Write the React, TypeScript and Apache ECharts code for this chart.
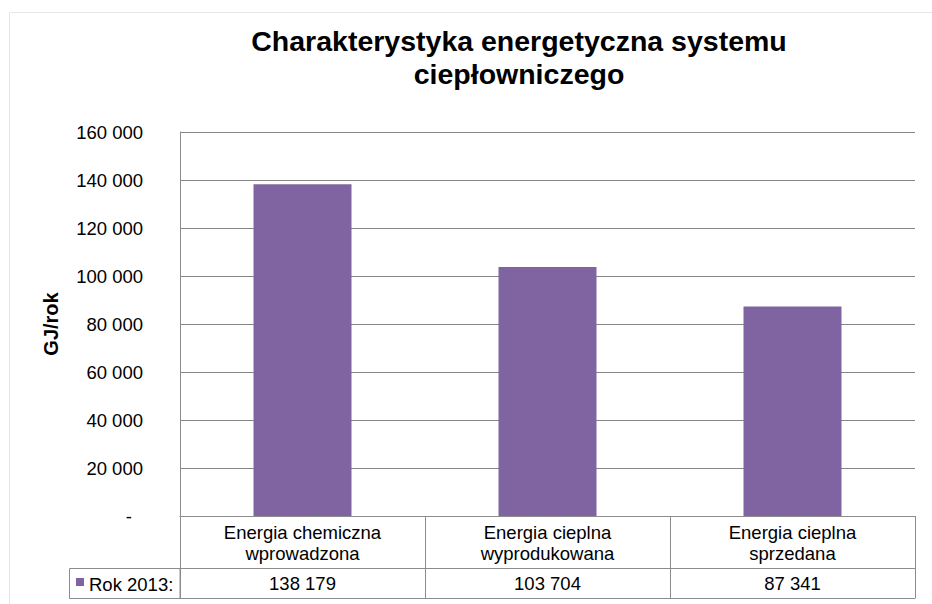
import React, { useEffect, useRef } from "react";
import * as echarts from "echarts";

const categories = [
  "Energia chemiczna\nwprowadzona",
  "Energia cieplna\nwyprodukowana",
  "Energia cieplna\nsprzedana",
];
const values = [138179, 103704, 87341];
const seriesName = "Rok 2013:";
const titleText = "Charakterystyka energetyczna systemu\nciepłowniczego";
const yAxisName = "GJ/rok";
const yMin = 0;
const yMax = 160000;
const yInterval = 20000;

const FONT = "'Liberation Sans', Arial, sans-serif";
const BAR = "#8064A2";
const LINE = "#8c8c8c";

const fmt = (n: number) =>
  String(Math.round(n)).replace(/\B(?=(\d{3})+(?!\d))/g, " ");

export default function App() {
  const ref = useRef<HTMLDivElement>(null);
  useEffect(() => {
    if (!ref.current) return;
    const chart = echarts.init(ref.current, undefined, { renderer: "svg" });
    chart.setOption({
      animation: false,
      backgroundColor: "#ffffff",
      grid: { left: 180, right: 17, top: 132, bottom: 88, containLabel: false },
      yAxis: {
        type: "value",
        min: yMin,
        max: yMax,
        interval: yInterval,
        name: yAxisName,
        nameLocation: "middle",
        nameRotate: 90,
        nameGap: 119,
        nameTextStyle: { fontFamily: FONT, fontSize: 20, fontWeight: "bold", color: "#000" },
        axisLine: { show: true, lineStyle: { color: LINE, width: 1 } },
        axisTick: { show: false },
        splitLine: { show: true, lineStyle: { color: "#868686", width: 1 } },
        axisLabel: {
          margin: 37,
          fontFamily: FONT,
          fontSize: 18.5,
          color: "#000",
          formatter: (v: number) => (v === 0 ? "{d|-}" : fmt(v)),
          rich: { d: { fontFamily: FONT, fontSize: 18.5, color: "#000", padding: [0, 11, 0, 0] } },
        },
      },
      xAxis: [
        {
          type: "category",
          data: categories,
          position: "bottom",
          axisLine: { show: true, lineStyle: { color: LINE, width: 1 } },
          axisTick: { show: true, interval: 0, length: 82, lineStyle: { color: LINE, width: 1 } },
          axisLabel: {
            interval: 0,
            margin: 6,
            fontFamily: FONT,
            fontSize: 18.5,
            lineHeight: 21,
            color: "#000",
          },
        },
        {
          type: "category",
          data: categories,
          position: "bottom",
          offset: 52,
          axisLine: { show: true, lineStyle: { color: LINE, width: 1 } },
          axisTick: { show: false },
          axisLabel: {
            interval: 0,
            margin: 5,
            fontFamily: FONT,
            fontSize: 18.5,
            lineHeight: 21,
            color: "#000",
            formatter: (_v: string, i: number) => fmt(values[i]),
          },
        },
        {
          type: "category",
          data: categories,
          position: "bottom",
          offset: 82,
          axisLine: { show: true, lineStyle: { color: LINE, width: 1 } },
          axisTick: { show: false },
          axisLabel: { show: false },
        },
      ],
      series: [
        {
          type: "bar",
          name: seriesName,
          xAxisIndex: 0,
          data: values,
          barWidth: "40%",
          itemStyle: { color: BAR },
        },
      ],
      graphic: [
        {
          type: "rect",
          shape: { x: 9.5, y: 12.5, width: 940, height: 620 },
          style: { fill: "none", stroke: "#e6e6e6", lineWidth: 1 },
          silent: true,
        },
        {
          type: "text",
          x: 519,
          y: 57,
          style: {
            text: titleText,
            textAlign: "center",
            textVerticalAlign: "middle",
            font: `bold 28.5px ${FONT}`,
            lineHeight: 33,
            fill: "#000",
          },
        },
        {
          type: "rect",
          shape: { x: 69.5, y: 568.5, width: 110.5, height: 30 },
          style: { fill: "none", stroke: LINE, lineWidth: 1 },
        },
        {
          type: "rect",
          shape: { x: 76, y: 578, width: 8, height: 8 },
          style: { fill: BAR },
        },
        {
          type: "text",
          x: 89,
          y: 584,
          style: {
            text: seriesName,
            textVerticalAlign: "middle",
            font: `18.5px ${FONT}`,
            fill: "#000",
          },
        },
      ],
    });
    return () => chart.dispose();
  }, []);
  return (
    <div
      ref={ref}
      style={{ position: "fixed", left: 0, top: 0, width: 932, height: 604 }}
    />
  );
}
